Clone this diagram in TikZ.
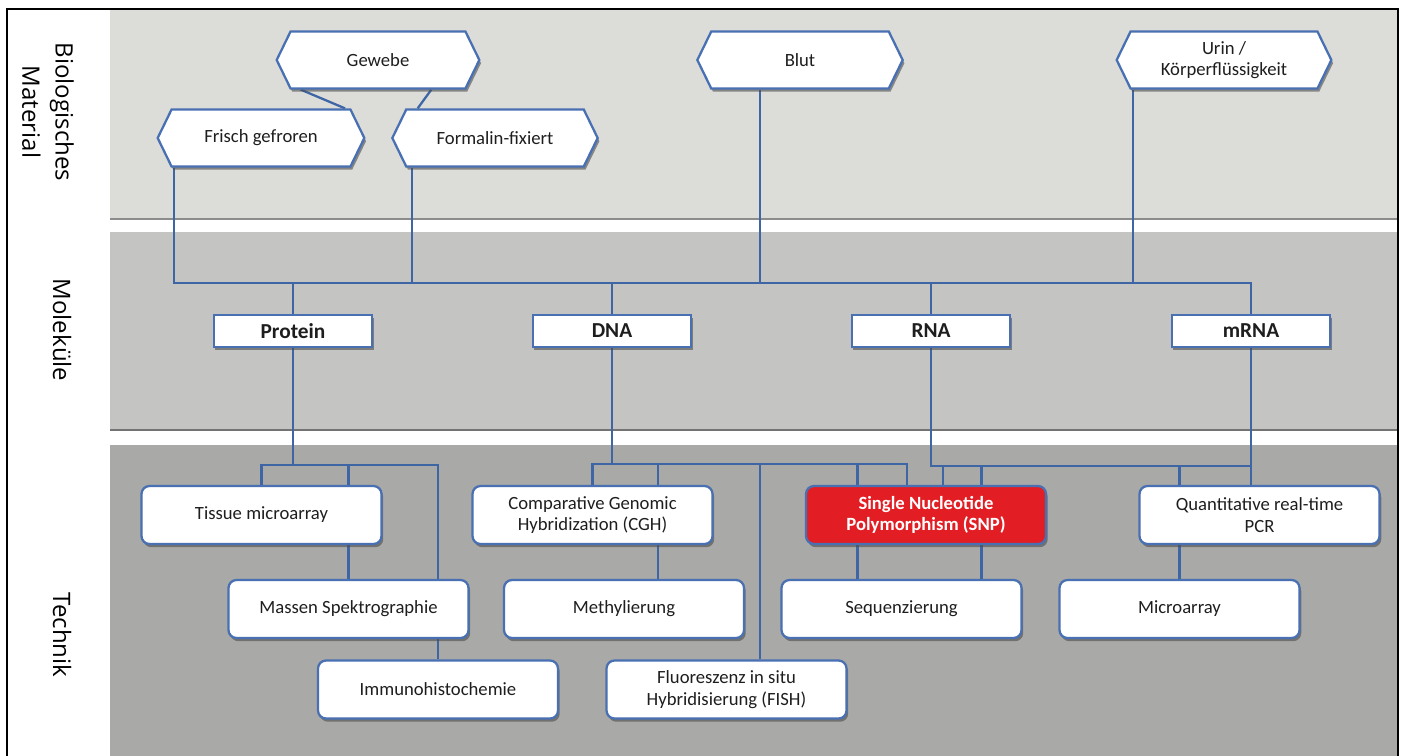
\documentclass[tikz,border=0pt]{standalone}
\usepackage{fontspec}
\setmainfont{Carlito}
\newfontfamily\ebenefont{Open Sans}
\usetikzlibrary{backgrounds,shapes.symbols,shadows}

\definecolor{linie}{RGB}{62,102,165}
\definecolor{rand}{RGB}{72,112,178}
\definecolor{feldA}{RGB}{220,220,217}
\definecolor{feldB}{RGB}{196,196,194}
\definecolor{feldC}{RGB}{169,169,167}
\definecolor{snprot}{RGB}{226,30,36}
\definecolor{schrift}{RGB}{30,30,30}

\tikzset{
	verbindung/.style={draw=linie, line width=1.7pt},
	schatten/.style={drop shadow={fill=black!70, opacity=0.6, shadow xshift=1.3pt, shadow yshift=-2.4pt}},
	material/.style={signal, signal to=west and east, signal pointer angle=128, draw=rand, line width=1.7pt, fill=white, minimum height=42.75pt, inner sep=2pt, text=schrift, align=center, font=\fontsize{14}{16}\selectfont, schatten},
	molekuel/.style={rectangle, draw=rand, line width=1.6pt, fill=white, minimum width=119pt, minimum height=24pt, inner sep=2pt, text=schrift, font=\fontsize{16}{18}\selectfont\bfseries, schatten},
	technik/.style={rectangle, rounded corners=6pt, draw=rand, line width=1.7pt, fill=white, minimum width=180pt, minimum height=43.5pt, text=schrift, align=center, font=\fontsize{14}{16}\selectfont, schatten},
	ebene/.style={rotate=-90, align=center, text=black, font=\ebenefont\fontsize{18}{25}\selectfont}
}

\begin{document}
\begin{tikzpicture}[x=0.75pt, y=-0.75pt]
	\useasboundingbox (0,0) rectangle (1402,756);
	% Felder
	\begin{scope}[on background layer]
		\fill[white] (0,0) rectangle (1402,756);
		\fill[black!45] (110,12) rectangle (1398,220);
		\fill[feldA] (110,10) rectangle (1398,218);
		\fill[black!55] (110,234) rectangle (1398,431);
		\fill[feldB] (110,232) rectangle (1398,429);
		\fill[feldC] (110,445) rectangle (1398,770);
	\end{scope}

	\node[ebene] (lbio) at (48,112) {Biologisches\\Material};
	\node[ebene] (lmol) at (62,330) {Moleküle};
	\node[ebene] (ltech) at (62,635) {Technik};

	% Material
	\node[material, minimum width=152pt] (gewebe) at (378,60) {Gewebe};
	\node[material, minimum width=155pt] (frisch) at (261,138) {Frisch gefroren};
	\node[material, minimum width=154pt] (formalin) at (495,138) {Formalin-fixiert};
	\node[material, minimum width=154pt] (blut) at (800,60) {Blut};
	\node[material, minimum width=161pt] (urin) at (1224,60) {Urin /\\Körperflüssigkeit};

	% Moleküle
	\node[molekuel] (protein) at (293,331) {Protein};
	\node[molekuel] (dna) at (612,331) {DNA};
	\node[molekuel] (rna) at (931,331) {RNA};
	\node[molekuel] (mrna) at (1251,331) {mRNA};

	% Technik
	\node[technik] (tma) at (261.5,515) {Tissue microarray};
	\node[technik] (cgh) at (592.5,515) {Comparative Genomic\\Hybridization (CGH)};
	\node[technik, fill=snprot, text=white, font=\fontsize{14}{16}\selectfont\bfseries] (snp) at (926,515) {Single Nucleotide\\Polymorphism (SNP)};
	\node[technik] (qpcr) at (1259.5,515) {Quantitative real-time\\PCR};
	\node[technik] (massen) at (348.5,609) {Massen Spektrographie};
	\node[technik] (methyl) at (624,609) {Methylierung};
	\node[technik] (seq) at (901.5,609) {Sequenzierung};
	\node[technik] (microarray) at (1179.5,609) {Microarray};
	\node[technik] (immuno) at (438,689.5) {Immunohistochemie};
	\node[technik] (fish) at (726.5,689.5) {Fluoreszenz in situ\\Hybridisierung (FISH)};

	% Sammelleitungen
	\coordinate (hb) at (0,283);
	\coordinate (pb) at (0,465);
	\coordinate (db) at (0,464);
	\coordinate (rb) at (0,466);

	\begin{scope}[on background layer]
		\draw[verbindung] ([xshift=-58pt]gewebe.south) -- ([xshift=63pt]frisch.north);
		\draw[verbindung] ([xshift=40pt]gewebe.south) -- ([xshift=-58pt]formalin.north);
		\draw[verbindung] ([xshift=-65pt]frisch.south) |- (mrna |- hb) -- (mrna);
		\foreach \n/\dx in {formalin/-62pt, blut/-30pt, urin/-68pt}
			\draw[verbindung] ([xshift=\dx]\n.south) -- ([xshift=\dx]\n.south |- hb);
		\foreach \n in {protein, dna, rna}
			\draw[verbindung] (\n) -- (\n |- hb);
		% Protein
		\draw[verbindung] (protein) -- (protein |- pb);
		\draw[verbindung] (tma) |- (immuno |- pb) -- (immuno);
		\draw[verbindung] (massen) -- (massen |- pb);
		% DNA
		\draw[verbindung] (dna) -- (dna |- db);
		\draw[verbindung] (cgh) |- ([xshift=-14pt]snp.north |- db) -- ([xshift=-14pt]snp.north);
		\foreach \n/\dx in {methyl/25.5pt, fish/25pt, seq/-33pt}
			\draw[verbindung] ([xshift=\dx]\n.north) -- ([xshift=\dx]\n.north |- db);
		% RNA
		\draw[verbindung] (rna) |- (mrna |- rb);
		\draw[verbindung] (mrna) -- (mrna |- qpcr.north);
		\foreach \n/\dx in {snp/13pt, seq/60pt}
			\draw[verbindung] ([xshift=\dx]\n.north) -- ([xshift=\dx]\n.north |- rb);
		\draw[verbindung] (microarray) -- (microarray |- rb);
	\end{scope}

	\draw[line width=0.9pt] (7,9) rectangle (1398,770);
\end{tikzpicture}
\end{document}
